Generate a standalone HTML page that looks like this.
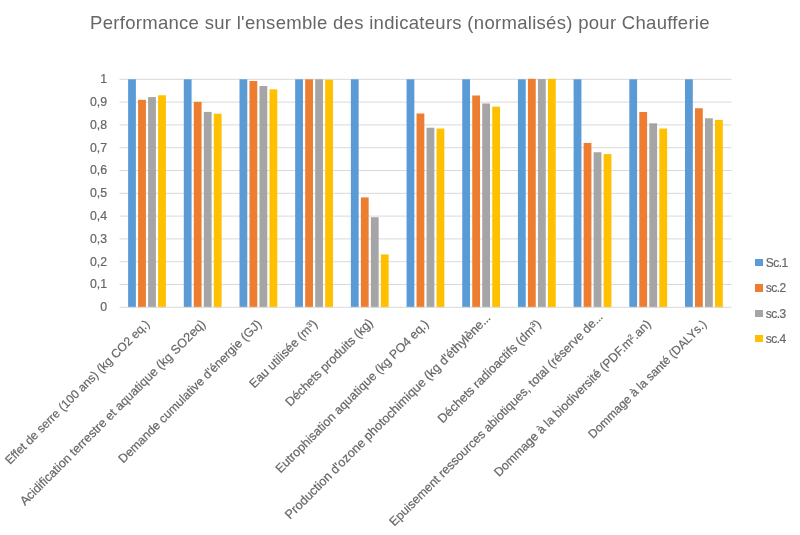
<!DOCTYPE html>
<html><head><meta charset="utf-8"><style>
html,body{margin:0;padding:0;}
body{width:800px;height:535px;background:#fff;position:relative;overflow:hidden;font-family:"Liberation Sans",sans-serif;color:#595959;}
.a{position:absolute;}
.g{position:absolute;height:1px;background:#D9D9D9;}
.b{position:absolute;}
.yl{position:absolute;font-size:12.3px;color:#666;-webkit-text-stroke:0.2px #666;text-align:right;width:40px;line-height:14px;}
.xl{position:absolute;font-size:11.5px;white-space:nowrap;line-height:14px;color:#666;-webkit-text-stroke:0.2px #666;transform-origin:100% 50%;transform:rotate(-45deg);}
.el{letter-spacing:-0.35px;}
.sp{font-size:0.62em;vertical-align:0.5em;line-height:0;}
.lg{position:absolute;width:7.3px;height:7.3px;}
.lt{position:absolute;font-size:12px;letter-spacing:-0.5px;color:#666;-webkit-text-stroke:0.2px #666;line-height:14px;}
#title{position:absolute;color:#666;left:90px;top:11.75px;font-size:18.5px;letter-spacing:0.3px;line-height:22px;white-space:nowrap;}
#wrap{position:absolute;left:0;top:0;width:800px;height:535px;filter:blur(0.4px);}
</style></head><body><div id="wrap">
<div id="title">Performance sur l'ensemble des indicateurs (normalisés) pour Chaufferie</div>
<div class="yl" style="left:67px;top:300.20px">0</div>
<div class="yl" style="left:67px;top:277.40px">0,1</div>
<div class="yl" style="left:67px;top:254.60px">0,2</div>
<div class="yl" style="left:67px;top:231.80px">0,3</div>
<div class="yl" style="left:67px;top:209.00px">0,4</div>
<div class="yl" style="left:67px;top:186.20px">0,5</div>
<div class="yl" style="left:67px;top:163.40px">0,6</div>
<div class="yl" style="left:67px;top:140.60px">0,7</div>
<div class="yl" style="left:67px;top:117.80px">0,8</div>
<div class="yl" style="left:67px;top:95.00px">0,9</div>
<div class="yl" style="left:67px;top:72.20px">1</div>
<svg class="a" style="left:0;top:0" width="800" height="535" viewBox="0 0 800 535" shape-rendering="geometricPrecision">
<rect x="119.5" y="284.00" width="612.0" height="1.0" fill="#D9D9D9"/>
<rect x="119.5" y="261.20" width="612.0" height="1.0" fill="#D9D9D9"/>
<rect x="119.5" y="238.40" width="612.0" height="1.0" fill="#D9D9D9"/>
<rect x="119.5" y="215.60" width="612.0" height="1.0" fill="#D9D9D9"/>
<rect x="119.5" y="192.80" width="612.0" height="1.0" fill="#D9D9D9"/>
<rect x="119.5" y="170.00" width="612.0" height="1.0" fill="#D9D9D9"/>
<rect x="119.5" y="147.20" width="612.0" height="1.0" fill="#D9D9D9"/>
<rect x="119.5" y="124.40" width="612.0" height="1.0" fill="#D9D9D9"/>
<rect x="119.5" y="101.60" width="612.0" height="1.0" fill="#D9D9D9"/>
<rect x="119.5" y="78.80" width="612.0" height="1.0" fill="#D9D9D9"/>
<rect x="128.10" y="79.30" width="7.8" height="228.00" fill="#5B9BD5"/>
<rect x="138.10" y="99.82" width="7.8" height="207.48" fill="#ED7D31"/>
<rect x="148.10" y="97.08" width="7.8" height="210.22" fill="#A5A5A5"/>
<rect x="158.10" y="95.26" width="7.8" height="212.04" fill="#FFC000"/>
<rect x="183.79" y="79.30" width="7.8" height="228.00" fill="#5B9BD5"/>
<rect x="193.79" y="101.87" width="7.8" height="205.43" fill="#ED7D31"/>
<rect x="203.79" y="111.90" width="7.8" height="195.40" fill="#A5A5A5"/>
<rect x="213.79" y="113.73" width="7.8" height="193.57" fill="#FFC000"/>
<rect x="239.48" y="79.30" width="7.8" height="228.00" fill="#5B9BD5"/>
<rect x="249.48" y="81.01" width="7.8" height="226.29" fill="#ED7D31"/>
<rect x="259.48" y="86.00" width="7.8" height="221.30" fill="#A5A5A5"/>
<rect x="269.48" y="89.33" width="7.8" height="217.97" fill="#FFC000"/>
<rect x="295.17" y="79.30" width="7.8" height="228.00" fill="#5B9BD5"/>
<rect x="305.17" y="79.30" width="7.8" height="228.00" fill="#ED7D31"/>
<rect x="315.17" y="79.30" width="7.8" height="228.00" fill="#A5A5A5"/>
<rect x="325.17" y="79.76" width="7.8" height="227.54" fill="#FFC000"/>
<rect x="350.86" y="79.30" width="7.8" height="228.00" fill="#5B9BD5"/>
<rect x="360.86" y="197.40" width="7.8" height="109.90" fill="#ED7D31"/>
<rect x="370.86" y="217.24" width="7.8" height="90.06" fill="#A5A5A5"/>
<rect x="380.86" y="254.40" width="7.8" height="52.90" fill="#FFC000"/>
<rect x="406.55" y="79.30" width="7.8" height="228.00" fill="#5B9BD5"/>
<rect x="416.55" y="113.50" width="7.8" height="193.80" fill="#ED7D31"/>
<rect x="426.55" y="127.75" width="7.8" height="179.55" fill="#A5A5A5"/>
<rect x="436.55" y="128.55" width="7.8" height="178.75" fill="#FFC000"/>
<rect x="462.24" y="79.30" width="7.8" height="228.00" fill="#5B9BD5"/>
<rect x="472.24" y="95.49" width="7.8" height="211.81" fill="#ED7D31"/>
<rect x="482.24" y="103.47" width="7.8" height="203.83" fill="#A5A5A5"/>
<rect x="492.24" y="106.66" width="7.8" height="200.64" fill="#FFC000"/>
<rect x="517.93" y="79.30" width="7.8" height="228.00" fill="#5B9BD5"/>
<rect x="527.93" y="78.84" width="7.8" height="228.46" fill="#ED7D31"/>
<rect x="537.93" y="79.07" width="7.8" height="228.23" fill="#A5A5A5"/>
<rect x="547.93" y="78.84" width="7.8" height="228.46" fill="#FFC000"/>
<rect x="573.62" y="79.30" width="7.8" height="228.00" fill="#5B9BD5"/>
<rect x="583.62" y="142.91" width="7.8" height="164.39" fill="#ED7D31"/>
<rect x="593.62" y="152.26" width="7.8" height="155.04" fill="#A5A5A5"/>
<rect x="603.62" y="154.08" width="7.8" height="153.22" fill="#FFC000"/>
<rect x="629.31" y="79.30" width="7.8" height="228.00" fill="#5B9BD5"/>
<rect x="639.31" y="112.00" width="7.8" height="195.30" fill="#ED7D31"/>
<rect x="649.31" y="123.30" width="7.8" height="184.00" fill="#A5A5A5"/>
<rect x="659.31" y="128.55" width="7.8" height="178.75" fill="#FFC000"/>
<rect x="685.00" y="79.30" width="7.8" height="228.00" fill="#5B9BD5"/>
<rect x="695.00" y="108.26" width="7.8" height="199.04" fill="#ED7D31"/>
<rect x="705.00" y="118.29" width="7.8" height="189.01" fill="#A5A5A5"/>
<rect x="715.00" y="119.88" width="7.8" height="187.42" fill="#FFC000"/>
<rect x="119.5" y="306.80" width="612.0" height="1.0" fill="#D9D9D9"/>
</svg>
<div class="xl" style="right:652.20px;top:314.80px;font-size:12.04px">Effet de serre (100 ans) (kg CO2 eq.)</div>
<div class="xl" style="right:596.36px;top:315.30px;font-size:12.51px">Acidification terrestre et aquatique (kg SO2eq)</div>
<div class="xl" style="right:540.44px;top:315.12px;font-size:12.30px">Demande cumulative d'énergie (GJ)</div>
<div class="xl" style="right:484.95px;top:314.98px;font-size:12.38px">Eau utilisée (m<span class=sp>3</span>)</div>
<div class="xl" style="right:429.02px;top:314.37px;font-size:12.40px">Déchets produits (kg)</div>
<div class="xl" style="right:373.63px;top:314.88px;font-size:12.38px">Eutrophisation aquatique (kg PO4 eq.)</div>
<div class="xl" style="right:312.16px;top:308.50px;font-size:12.62px">Production d'ozone photochimique (kg d'éthylène<span class=el>...</span></div>
<div class="xl" style="right:261.37px;top:315.35px;font-size:12.52px">Déchets radioactifs (dm<span class=sp>3</span>)</div>
<div class="xl" style="right:199.85px;top:308.43px;font-size:12.41px">Epuisement ressources abiotiques, total (réserve de<span class=el>...</span></div>
<div class="xl" style="right:151.23px;top:315.15px;font-size:12.32px">Dommage à la biodiversité (PDF.m<span class=sp>2</span>.an)</div>
<div class="xl" style="right:95.20px;top:314.55px;font-size:11.97px">Dommage à la santé (DALYs.)</div>
<div class="lg" style="left:755.4px;top:259.00px;background:#5B9BD5"></div>
<div class="lt" style="left:765.7px;top:255.80px">Sc.1</div>
<div class="lg" style="left:755.4px;top:284.40px;background:#ED7D31"></div>
<div class="lt" style="left:765.7px;top:281.20px">sc.2</div>
<div class="lg" style="left:755.4px;top:309.80px;background:#A5A5A5"></div>
<div class="lt" style="left:765.7px;top:306.60px">sc.3</div>
<div class="lg" style="left:755.4px;top:335.20px;background:#FFC000"></div>
<div class="lt" style="left:765.7px;top:332.00px">sc.4</div>
</div></body></html>
